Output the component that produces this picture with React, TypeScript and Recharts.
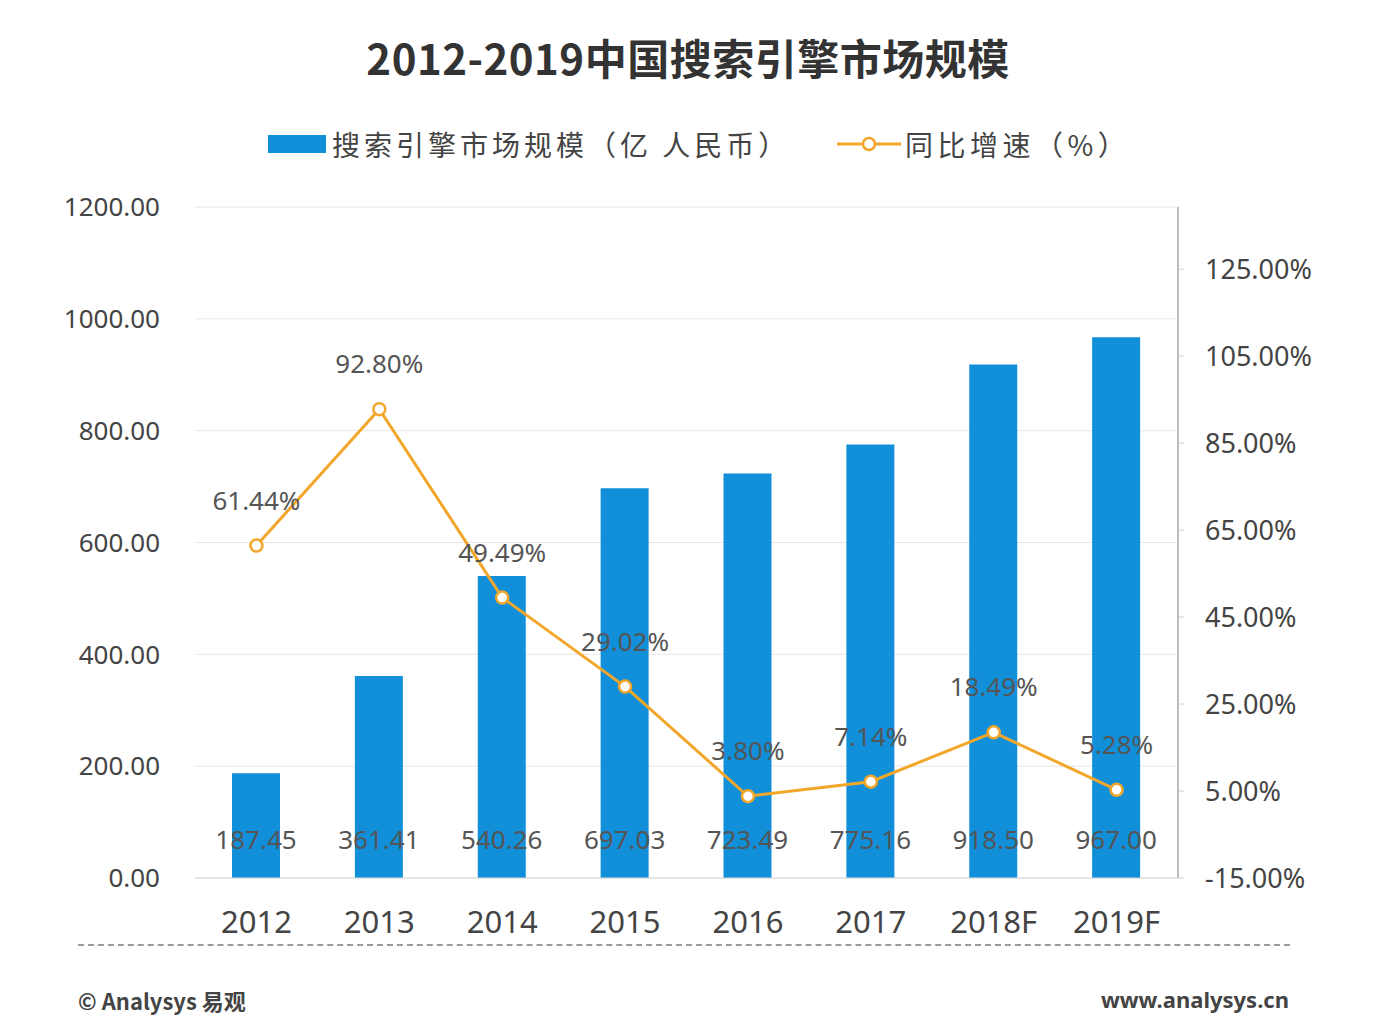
import React from "react";
import {
  ComposedChart,
  Bar,
  Line,
  XAxis,
  YAxis,
  CartesianGrid,
  LabelList,
} from "recharts";

const years = ["2012", "2013", "2014", "2015", "2016", "2017", "2018F", "2019F"];
const marketSize = [187.45, 361.41, 540.26, 697.03, 723.49, 775.16, 918.5, 967.0];
const growthRate = [61.44, 92.8, 49.49, 29.02, 3.8, 7.14, 18.49, 5.28];
const leftTicks = [0, 200, 400, 600, 800, 1000, 1200];
const rightTicks = [-15, 5, 25, 45, 65, 85, 105, 125];

const data = years.map((year, i) => ({
  year,
  size: marketSize[i],
  growth: growthRate[i],
}));

const BLUE = "#118fd9";
const ORANGE = "#f2a62a";
const TEXT = "#444";
const FONT = "'Noto Sans', 'Noto Sans CJK SC', sans-serif";
const CJK = "'Noto Sans CJK SC', sans-serif";

function BarValueLabel(props: any) {
  const { x, y, width, height, value } = props;
  return (
    <text
      x={x + width / 2}
      y={y + height - 29}
      textAnchor="middle"
      fontSize={26}
      fill="#555"
      fontFamily={FONT}
    >
      {Number(value).toFixed(2)}
    </text>
  );
}

function LineValueLabel(props: any) {
  const { x, y, value } = props;
  return (
    <text
      x={x}
      y={y - 36}
      textAnchor="middle"
      fontSize={26}
      fill="#555"
      fontFamily={FONT}
    >
      {Number(value).toFixed(2)}%
    </text>
  );
}

export default function App() {
  return (
    <div
      style={{
        position: "absolute",
        left: 0,
        top: 0,
        width: 1399,
        height: 1025,
        background: "#fff",
        fontFamily: FONT,
        overflow: "hidden",
      }}
    >
      <div
        style={{
          position: "absolute",
          top: 26,
          left: 0,
          width: 1376,
          textAlign: "center",
          fontSize: 42,
          fontWeight: 700,
          color: "#333",
          fontFamily: CJK,
          letterSpacing: 0.5,
        }}
      >
        2012-2019中国搜索引擎市场规模
      </div>

      {/* legend */}
      <div style={{ position: "absolute", top: 135, left: 268, width: 58, height: 18, background: BLUE }} />
      <div
        style={{
          position: "absolute",
          top: 124,
          left: 332,
          fontSize: 28,
          color: TEXT,
          fontFamily: CJK,
          letterSpacing: 4,
          whiteSpace: "nowrap",
        }}
      >
        搜索引擎市场规模（亿 人民币）
      </div>
      <svg width={64} height={20} style={{ position: "absolute", top: 134, left: 837 }}>
        <line x1={0} y1={10} x2={64} y2={10} stroke={ORANGE} strokeWidth={3} />
        <circle cx={32} cy={10} r={6} fill="#fff" stroke={ORANGE} strokeWidth={2.5} />
      </svg>
      <div
        style={{
          position: "absolute",
          top: 124,
          left: 905,
          fontSize: 28,
          color: TEXT,
          fontFamily: CJK,
          letterSpacing: 4.5,
          whiteSpace: "nowrap",
        }}
      >
        同比增速（%）
      </div>

      <div style={{ position: "absolute", left: 0, top: 0 }}>
        <ComposedChart
          width={1399}
          height={960}
          data={data}
          margin={{ top: 207, right: 0, bottom: 0, left: 0 }}
        >
          <CartesianGrid vertical={false} stroke="#e6e6e6" yAxisId="left" />
          <XAxis
            dataKey="year"
            height={82}
            axisLine={{ stroke: "#d9d9d9" }}
            tickLine={false}
            tickSize={0}
            tickMargin={33}
            tick={{ fontSize: 31, fill: TEXT, fontFamily: FONT }}
          />
          <YAxis
            yAxisId="left"
            domain={[0, 1200]}
            ticks={leftTicks}
            width={195}
            axisLine={false}
            tickLine={false}
            tickSize={0}
            tickMargin={35}
            tickFormatter={(v: number) => v.toFixed(2)}
            tick={{ fontSize: 26, fill: TEXT, fontFamily: FONT }}
          />
          <YAxis
            yAxisId="right"
            orientation="right"
            domain={[-15, 139.3]}
            ticks={rightTicks}
            width={221}
            axisLine={{ stroke: "#bdbdbd", strokeWidth: 2 }}
            tickLine={{ stroke: "#d0d0d0" }}
            tickSize={6}
            tickMargin={21}
            tickFormatter={(v: number) => `${v.toFixed(2)}%`}
            tick={{ fontSize: 27, fill: TEXT, fontFamily: FONT }}
          />
          <Bar yAxisId="left" dataKey="size" fill={BLUE} barSize={48} isAnimationActive={false}>
            <LabelList dataKey="size" content={<BarValueLabel />} />
          </Bar>
          <Line
            yAxisId="right"
            dataKey="growth"
            stroke={ORANGE}
            strokeWidth={3}
            dot={{ r: 6, fill: "#fff", stroke: ORANGE, strokeWidth: 2.5 }}
            isAnimationActive={false}
          >
            <LabelList dataKey="growth" content={<LineValueLabel />} />
          </Line>
        </ComposedChart>
      </div>

      {/* footer */}
      <div
        style={{
          position: "absolute",
          top: 944,
          left: 78,
          width: 1212,
          borderTop: "2px dashed #9a9a9a",
        }}
      />
      <div
        style={{
          position: "absolute",
          top: 984,
          left: 78,
          fontSize: 22,
          fontWeight: 700,
          color: "#444",
          fontFamily: CJK,
        }}
      >
        © Analysys 易观
      </div>
      <div
        style={{
          position: "absolute",
          top: 984,
          right: 110,
          fontSize: 22,
          fontWeight: 700,
          color: "#444",
          fontFamily: FONT,
        }}
      >
        www.analysys.cn
      </div>
    </div>
  );
}
